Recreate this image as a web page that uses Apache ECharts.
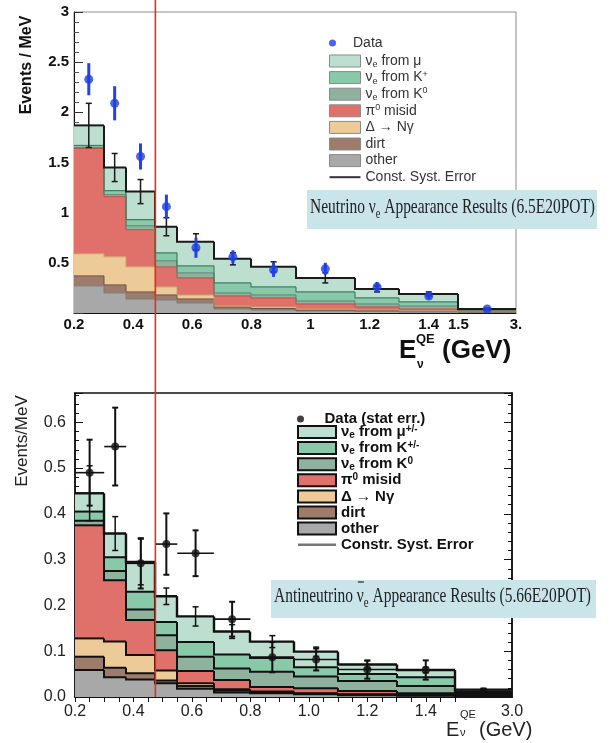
<!DOCTYPE html>
<html>
<head>
<meta charset="utf-8">
<script src="https://cdn.jsdelivr.net/npm/echarts@6/dist/echarts.min.js"></script>
<style>
html, body { margin: 0; padding: 0; background: #fff; }
#chart { width: 612px; height: 743px; }
</style>
</head>
<body>
<div id="chart"></div>
<script>
// bin edges in GeV (last bin 1.5-3.0 is drawn squeezed)
var topEdges = [0.2, 0.3, 0.375, 0.475, 0.55, 0.675, 0.8, 0.95, 1.15, 1.3, 1.5, 3.0];
var botEdges = [0.2, 0.3, 0.375, 0.475, 0.55, 0.675, 0.8, 0.95, 1.1, 1.3, 1.5, 3.0];

// neutrino mode MC, events/MeV per component (bottom of stack first)
var topOther = [0.27, 0.20, 0.14, 0.13, 0.10, 0.04, 0.03, 0.02, 0.015, 0.01, 0.005];
var topDirt  = [0.10, 0.08, 0.07, 0.05, 0.04, 0.02, 0.015, 0.01, 0.01, 0.005, 0.005];
var topDelta = [0.22, 0.28, 0.25, 0.08, 0.04, 0.01, 0.015, 0.01, 0.005, 0.005, 0.002];
var topPi0   = [1.05, 0.60, 0.37, 0.20, 0.17, 0.10, 0.09, 0.05, 0.03, 0.02, 0.008];
var topK0    = [0.01, 0.02, 0.04, 0.06, 0.05, 0.03, 0.03, 0.03, 0.03, 0.03, 0.008];
var topKp    = [0.02, 0.04, 0.06, 0.08, 0.07, 0.10, 0.08, 0.09, 0.06, 0.04, 0.005];
var topMu    = [0.20, 0.23, 0.28, 0.26, 0.24, 0.24, 0.20, 0.14, 0.09, 0.08, 0.007];
var topData    = [2.33, 2.09, 1.56, 1.06, 0.65, 0.56, 0.43, 0.44, 0.26, 0.17, 0.04];
var topDataErr = [0.16, 0.17, 0.13, 0.12, 0.10, 0.065, 0.07, 0.06, 0.05, 0.03, 0.02];
var topSyst    = [0.22, 0.14, 0.12, 0.09, 0.08, 0.06, 0.05, 0.05, 0.03, 0.02, 0.01];

// antineutrino mode MC
var botOther = [0.059, 0.043, 0.038, 0.030, 0.018, 0.010, 0.008, 0.006, 0.004, 0.003, 0.002];
var botDirt  = [0.029, 0.021, 0.014, 0.006, 0.006, 0.004, 0.002, 0.001, 0.001, 0.001, 0.001];
var botDelta = [0.040, 0.057, 0.040, 0.022, 0.006, 0.003, 0.002, 0.001, 0.001, 0.001, 0.001];
var botPi0   = [0.247, 0.134, 0.076, 0.044, 0.027, 0.020, 0.010, 0.011, 0.007, 0.003, 0.002];
var botK0    = [0.010, 0.020, 0.023, 0.033, 0.031, 0.025, 0.033, 0.026, 0.022, 0.016, 0.003];
var botKp    = [0.020, 0.030, 0.039, 0.029, 0.032, 0.031, 0.030, 0.020, 0.015, 0.019, 0.003];
var botMu    = [0.040, 0.052, 0.065, 0.056, 0.056, 0.050, 0.036, 0.034, 0.021, 0.016, 0.004];
var botData    = [0.490, 0.547, 0.292, 0.334, 0.314, 0.170, 0.087, 0.082, 0.060, 0.059, 0.012];
var botDataErr = [0.072, 0.085, 0.055, 0.067, 0.050, 0.038, 0.033, 0.024, 0.020, 0.021, 0.005];
var botSyst    = [0.060, 0.037, 0.050, 0.018, 0.021, 0.015, 0.013, 0.010, 0.008, 0.006, 0.003];

// tick labels
var topTickVals = [0.2, 0.4, 0.6, 0.8, 1.0, 1.2, 1.4, 1.5, 3.0];
var topTickText = ['0.2', '0.4', '0.6', '0.8', '1', '1.2', '1.4', '1.5', '3.'];
var botTickVals = [0.2, 0.4, 0.6, 0.8, 1.0, 1.2, 1.4, 3.0];
var botTickText = ['0.2', '0.4', '0.6', '0.8', '1.0', '1.2', '1.4', '3.0'];
var botYLabels = [0, 0.1, 0.2, 0.3, 0.4, 0.5, 0.6];

var fills = ['#a8a8a8', '#9e7c6c', '#eccb98', '#e0716a', '#8fb29e', '#87c9a8', '#bcdfd0'];
var topStrokes = ['#7a7a7a', '#6d5245', '#c9a36c', '#b84f48', '#5f8470', '#417f61', '#1a1a1a'];
var topWidths = [1, 1, 1, 1, 1, 1.2, 2];

var SANS = '"Liberation Sans", Arial, sans-serif';
var SERIF = '"Liberation Serif", "Times New Roman", serif';

// squeeze the 1.5-3 GeV bin like the original plots
function ax(x) { return x <= 1.5 ? x : 1.5 + (x - 1.5) * 0.13; }

function centers(edges) {
    var c = [];
    for (var i = 0; i < edges.length - 1; i++) c.push(ax((edges[i] + edges[i + 1]) / 2));
    return c;
}

function cumulate(comps) {
    var tops = [], run = comps[0].map(function () { return 0; });
    comps.forEach(function (c) {
        run = run.map(function (r, i) { return r + c[i]; });
        tops.push(run.slice());
    });
    return tops;
}

function renderLayer(fill, stroke, lw) {
    return function (params, api) {
        var a = api.coord([api.value(0), api.value(2)]);
        var b = api.coord([api.value(1), api.value(3)]);
        var p = api.coord([api.value(0), api.value(4)]);
        var x0 = Math.round(a[0]), x1 = Math.round(b[0]);
        return {
            type: 'group',
            children: [
                { type: 'rect', z2: 0, shape: { x: x0, y: b[1], width: x1 - x0, height: a[1] - b[1] }, style: { fill: fill } },
                { type: 'polyline', z2: 10, shape: { points: [[x0, p[1]], [x0, b[1]], [x1, b[1]]] },
                  style: { stroke: stroke, lineWidth: lw, fill: null } }
            ]
        };
    };
}

function layerSeries(keys, comps, edges, strokes, widths, xi, yi) {
    var tops = cumulate(comps);
    return comps.map(function (c, li) {
        var data = c.map(function (v, i) {
            var top = tops[li][i];
            var prev = i > 0 ? tops[li][i - 1] : top;
            return [ax(edges[i]), ax(edges[i + 1]), top - v, top, prev];
        });
        return {
            name: keys[li], type: 'custom', xAxisIndex: xi, yAxisIndex: yi, z: 2,
            itemStyle: { color: fills[li] },
            renderItem: renderLayer(fills[li], strokes[li], widths[li]),
            data: data
        };
    });
}

function renderErr(color, lw, cap, hbar) {
    return function (params, api) {
        var x = api.value(0), y = api.value(1), e = api.value(2);
        var hi = api.coord([x, y + e]), lo = api.coord([x, y - e]);
        var ch = [{ type: 'line', shape: { x1: hi[0], y1: hi[1], x2: lo[0], y2: lo[1] }, style: { stroke: color, lineWidth: lw } }];
        if (cap) {
            ch.push({ type: 'line', shape: { x1: hi[0] - cap, y1: hi[1], x2: hi[0] + cap, y2: hi[1] }, style: { stroke: color, lineWidth: lw } });
            ch.push({ type: 'line', shape: { x1: lo[0] - cap, y1: lo[1], x2: lo[0] + cap, y2: lo[1] }, style: { stroke: color, lineWidth: lw } });
        }
        if (hbar) {
            var l = api.coord([api.value(3), y]), r = api.coord([api.value(4), y]);
            ch.push({ type: 'line', shape: { x1: l[0], y1: l[1], x2: r[0], y2: r[1] }, style: { stroke: color, lineWidth: 1.6 } });
        }
        return { type: 'group', children: ch };
    };
}

function tickLabel(vals, texts) {
    return function (v) {
        for (var i = 0; i < vals.length; i++) {
            if (Math.abs(ax(vals[i]) - v) < 1e-6) return texts[i];
        }
        return '';
    };
}

var minorX = [];
for (var k = 0; k <= 26; k++) minorX.push(+(0.2 + k * 0.05).toFixed(2));

var topComps = [topOther, topDirt, topDelta, topPi0, topK0, topKp, topMu];
var botComps = [botOther, botDirt, botDelta, botPi0, botK0, botKp, botMu];
var topKeys = ['a_other', 'a_dirt', 'a_delta', 'a_pi0', 'a_k0', 'a_kp', 'a_mu'];
var botKeys = ['b_other', 'b_dirt', 'b_delta', 'b_pi0', 'b_k0', 'b_kp', 'b_mu'];
var topTotal = cumulate(topComps)[6];
var botTotal = cumulate(botComps)[6];
var topC = centers(topEdges), botC = centers(botEdges);

var legendText = {
    a_data: 'Data', a_mu: 'ν{s|e} from μ', a_kp: 'ν{s|e} from K{p|+}', a_k0: 'ν{s|e} from K{p|0}',
    a_pi0: 'π{p|0} misid', a_delta: 'Δ → Nγ', a_dirt: 'dirt', a_other: 'other', a_syst: 'Const. Syst. Error',
    b_data: 'Data (stat err.)', b_mu: 'ν{s|e} from μ{p|+/-}', b_kp: 'ν{s|e} from K{p|+/-}', b_k0: 'ν{s|e} from K{p|0}',
    b_pi0: 'π{p|0} misid', b_delta: 'Δ → Nγ', b_dirt: 'dirt', b_other: 'other', b_syst: 'Constr. Syst. Error'
};
function fmtLegend(name) { return legendText[name]; }

var topLegendStyle = {
    fontFamily: SANS, fontSize: 14, color: '#333', lineHeight: 16,
    rich: {
        s: { fontFamily: SANS, fontSize: 9, color: '#333', lineHeight: 6, verticalAlign: 'bottom' },
        p: { fontFamily: SANS, fontSize: 9, color: '#333', lineHeight: 6, verticalAlign: 'top' }
    }
};
var botLegendStyle = {
    fontFamily: SANS, fontSize: 15, fontWeight: 'bold', color: '#111', lineHeight: 16,
    rich: {
        s: { fontFamily: SANS, fontSize: 10, fontWeight: 'bold', color: '#111', lineHeight: 6, verticalAlign: 'bottom' },
        p: { fontFamily: SANS, fontSize: 10, fontWeight: 'bold', color: '#111', lineHeight: 6, verticalAlign: 'top' }
    }
};
var lineIcon = 'path://M0,0 L31,0 L31,2 L0,2 Z';

function boxItems(prefix, border, bw, sysColor) {
    var keys = ['mu', 'kp', 'k0', 'pi0', 'delta', 'dirt', 'other'];
    var items = keys.map(function (k) {
        return { name: prefix + k, icon: 'rect', itemStyle: { borderColor: border, borderWidth: bw } };
    });
    items.push({ name: prefix + 'syst', icon: lineIcon, itemStyle: { color: sysColor, borderWidth: 0 } });
    return items;
}

var series = []
    .concat(layerSeries(topKeys, topComps, topEdges, topStrokes, topWidths, 0, 0))
    .concat([
        { name: 'a_syst', type: 'custom', xAxisIndex: 0, yAxisIndex: 0, z: 3, itemStyle: { color: '#333' },
          renderItem: renderErr('#1a1a1a', 1.5, 3, false),
          data: topC.map(function (x, i) { return [x, topTotal[i], topSyst[i]]; }) },
        { name: 'a_data_err', type: 'custom', xAxisIndex: 0, yAxisIndex: 0, z: 4,
          renderItem: renderErr('#2243e6', 3, 0, false),
          data: topC.map(function (x, i) { return [x, topData[i], topDataErr[i]]; }) },
        { name: 'a_data', type: 'scatter', xAxisIndex: 0, yAxisIndex: 0, z: 5, symbolSize: 9,
          itemStyle: { color: '#1f3fe3' },
          data: topC.map(function (x, i) { return [x, topData[i]]; }) }
    ])
    .concat(layerSeries(botKeys, botComps, botEdges, ['#111', '#111', '#111', '#111', '#111', '#111', '#111'], [2, 2, 2, 2, 2, 2, 2.4], 1, 1))
    .concat([
        { name: 'b_syst', type: 'custom', xAxisIndex: 1, yAxisIndex: 1, z: 3, itemStyle: { color: '#777' },
          renderItem: renderErr('#111', 1.5, 3, false),
          data: botC.map(function (x, i) { return [x, botTotal[i], botSyst[i]]; }) },
        { name: 'b_data_err', type: 'custom', xAxisIndex: 1, yAxisIndex: 1, z: 4,
          renderItem: renderErr('#111', 2, 3, true),
          data: botC.map(function (x, i) { return [x, botData[i], botDataErr[i], ax(botEdges[i]), ax(botEdges[i + 1])]; }) },
        { name: 'b_data', type: 'scatter', xAxisIndex: 1, yAxisIndex: 1, z: 5, symbolSize: 8,
          itemStyle: { color: '#111' },
          data: botC.map(function (x, i) { return [x, botData[i]]; }) }
    ]);

var option = {
    animation: false,
    backgroundColor: '#fff',
    grid: [
        { left: 74, right: 96, top: 12, bottom: 430, show: true, borderColor: '#8c8c8c', borderWidth: 1 },
        { left: 75, right: 100, top: 393, bottom: 46, show: true, borderColor: '#111', borderWidth: 1.5 }
    ],
    xAxis: [
        { gridIndex: 0, type: 'value', min: 0.2, max: ax(3.0),
          axisLine: { lineStyle: { color: '#111', width: 1 } },
          axisTick: { inside: true, length: 6, customValues: minorX.map(ax), lineStyle: { color: '#333' } },
          axisLabel: { customValues: topTickVals.map(ax), formatter: tickLabel(topTickVals, topTickText),
                       fontFamily: SANS, fontWeight: 'bold', fontSize: 15, color: '#111', margin: 4 },
          splitLine: { show: false } },
        { gridIndex: 1, type: 'value', min: 0.2, max: ax(3.0),
          axisLine: { lineStyle: { color: '#111', width: 1.5 } },
          axisTick: { inside: true, length: 5, customValues: minorX.map(ax), lineStyle: { color: '#111' } },
          axisLabel: { customValues: botTickVals.map(ax), formatter: tickLabel(botTickVals, botTickText),
                       fontFamily: SANS, fontSize: 16, color: '#222', margin: 7 },
          splitLine: { show: false } },
        { gridIndex: 1, type: 'value', position: 'top', min: 0.2, max: ax(3.0),
          axisLine: { lineStyle: { color: '#111', width: 1.5 } },
          axisTick: { inside: true, length: 5, customValues: minorX.map(ax), lineStyle: { color: '#111' } },
          axisLabel: { show: false }, splitLine: { show: false } }
    ],
    yAxis: [
        { gridIndex: 0, type: 'value', min: 0, max: 3, interval: 0.5,
          axisLine: { show: true, lineStyle: { color: '#111', width: 1 } },
          axisTick: { inside: true, length: 9, lineStyle: { color: '#333' } },
          minorTick: { show: true, splitNumber: 5, length: 5, lineStyle: { color: '#555' } },
          axisLabel: { formatter: function (v) { return v === 0 ? '' : String(v); },
                       fontFamily: SANS, fontWeight: 'bold', fontSize: 15, color: '#111', margin: 5 },
          splitLine: { show: false } },
        { gridIndex: 1, type: 'value', min: 0, max: 0.664, interval: 0.1,
          axisLine: { show: true, lineStyle: { color: '#111', width: 1.5 } },
          axisTick: { inside: true, length: 8, lineStyle: { color: '#111' } },
          minorTick: { show: true, splitNumber: 5, length: 4, lineStyle: { color: '#111' } },
          axisLabel: { customValues: botYLabels, formatter: function (v) { return v.toFixed(1); },
                       fontFamily: SANS, fontSize: 16, color: '#222', margin: 9 },
          splitLine: { show: false } },
        { gridIndex: 1, type: 'value', position: 'right', min: 0, max: 0.664, interval: 0.1,
          axisLine: { show: true, lineStyle: { color: '#111', width: 1.5 } },
          axisTick: { inside: true, length: 8, lineStyle: { color: '#111' } },
          minorTick: { show: true, splitNumber: 5, length: 4, lineStyle: { color: '#111' } },
          axisLabel: { show: false }, splitLine: { show: false } }
    ],
    legend: [
        { data: [{ name: 'a_data', icon: 'circle' }], orient: 'vertical', left: 324, top: 30,
          itemWidth: 31, itemHeight: 7, selectedMode: false, formatter: fmtLegend, textStyle: topLegendStyle },
        { data: boxItems('a_', '#8a8a8a', 1, '#333'), orient: 'vertical', left: 324, top: 48, symbolKeepAspect: true,
          itemWidth: 31, itemHeight: 12, itemGap: 0.6, selectedMode: false, formatter: fmtLegend, textStyle: topLegendStyle },
        { data: [{ name: 'b_data', icon: 'circle' }], orient: 'vertical', left: 292, top: 406,
          itemWidth: 38, itemHeight: 7, selectedMode: false, formatter: fmtLegend, textStyle: botLegendStyle },
        { data: boxItems('b_', '#111', 2, '#777'), orient: 'vertical', left: 292, top: 419, symbolKeepAspect: true,
          itemWidth: 38, itemHeight: 12, itemGap: 0.1, selectedMode: false, formatter: fmtLegend, textStyle: botLegendStyle }
    ],
    series: series
};

var chart = echarts.init(document.getElementById('chart'));
chart.setOption(option);

// text measuring for the squeezed serif captions
var ctx = document.createElement('canvas').getContext('2d');
function tw(str, size) { ctx.font = size + 'px ' + SERIF; return ctx.measureText(str).width; }

function caption(parts, left, width, baseY, size, subSize) {
    var total = 0;
    parts.forEach(function (p) { total += tw(p.t, p.sub ? subSize : size); });
    var s = width / total, x = left, out = [], pos = [];
    parts.forEach(function (p) {
        var fs = p.sub ? subSize : size;
        pos.push(x);
        out.push({ type: 'text', x: x, y: p.sub ? baseY + 3 : baseY, scaleX: s, z: 101,
                   style: { text: p.t, font: fs + 'px ' + SERIF, fill: '#222', verticalAlign: 'bottom' } });
        x += tw(p.t, fs) * s;
    });
    return { els: out, pos: pos, scale: s };
}

var cap1 = caption([{ t: 'Neutrino ν' }, { t: 'e', sub: true }, { t: ' Appearance Results (6.5E20POT)' }],
                   310, 285, 218, 21, 14);
var cap2 = caption([{ t: 'Antineutrino ' }, { t: 'ν' }, { t: 'e', sub: true }, { t: ' Appearance Results (5.66E20POT)' }],
                   274, 317, 607, 20, 14);
var nuX = cap2.pos[1], nuW = tw('ν', 20) * cap2.scale;

var redX = chart.convertToPixel({ xAxisIndex: 1 }, ax(0.475));
var axisY = chart.convertToPixel({ yAxisIndex: 1 }, 0);

var graphics = [
    { type: 'rect', z: 100, shape: { x: 307, y: 190, width: 290, height: 39 }, style: { fill: '#cae5ea' } },
    { type: 'rect', z: 100, shape: { x: 271, y: 580, width: 325, height: 38 }, style: { fill: '#cae5ea' } },
    { type: 'line', z: 101, shape: { x1: nuX + 1, y1: 582, x2: nuX + nuW, y2: 582 }, style: { stroke: '#222', lineWidth: 1.2 } },
    { type: 'line', z: 102, shape: { x1: redX, y1: 0, x2: redX, y2: axisY }, style: { stroke: '#e0301e', lineWidth: 1.6 } },
    // axis titles
    { type: 'text', x: 27, y: 65, rotation: Math.PI / 2, z: 101,
      style: { text: 'Events / MeV', font: 'bold 16px ' + SANS, fill: '#111', align: 'center', verticalAlign: 'middle' } },
    { type: 'text', x: 22, y: 441, rotation: Math.PI / 2, z: 101,
      style: { text: 'Events/MeV', font: '17px ' + SANS, fill: '#222', align: 'center', verticalAlign: 'middle' } },
    { type: 'text', x: 399, y: 364, z: 101, style: { text: 'E', font: 'bold 26px ' + SANS, fill: '#111', verticalAlign: 'bottom' } },
    { type: 'text', x: 416, y: 346, z: 101, style: { text: 'QE', font: 'bold 13px ' + SANS, fill: '#111', verticalAlign: 'bottom' } },
    { type: 'text', x: 417, y: 371, z: 101, style: { text: 'ν', font: 'bold 12px ' + SANS, fill: '#111', verticalAlign: 'bottom' } },
    { type: 'text', x: 442, y: 364, z: 101, style: { text: '(GeV)', font: 'bold 26px ' + SANS, fill: '#111', verticalAlign: 'bottom' } },
    { type: 'text', x: 446, y: 740, z: 101, style: { text: 'E', font: '20px ' + SANS, fill: '#222', verticalAlign: 'bottom' } },
    { type: 'text', x: 460, y: 720, z: 101, style: { text: 'QE', font: '11px ' + SANS, fill: '#222', verticalAlign: 'bottom' } },
    { type: 'text', x: 460, y: 738, z: 101, style: { text: 'ν', font: '11px ' + SANS, fill: '#222', verticalAlign: 'bottom' } },
    { type: 'text', x: 479, y: 740, z: 101, style: { text: '(GeV)', font: '20px ' + SANS, fill: '#222', verticalAlign: 'bottom' } }
].concat(cap1.els).concat(cap2.els);

chart.setOption({ graphic: graphics });
window.onresize = chart.resize;
</script>
</body>
</html>
